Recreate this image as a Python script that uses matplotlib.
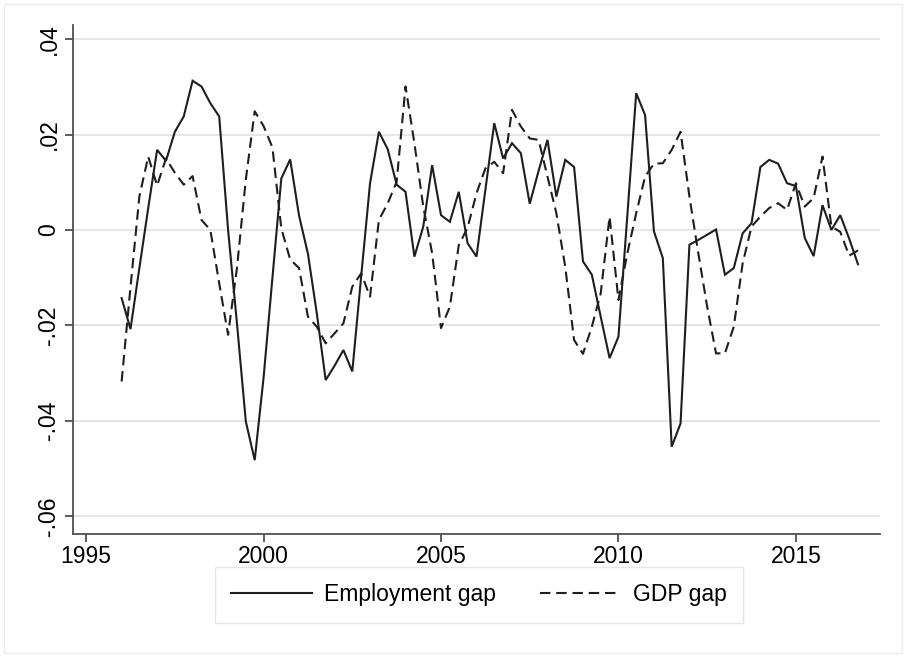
import matplotlib
matplotlib.use("Agg")
import matplotlib.pyplot as plt
import numpy as np
from matplotlib.patches import Rectangle

plt.rcParams['font.family'] = ['Liberation Sans', 'DejaVu Sans']

# Quarterly periods 1996q1 .. 2016q4
start_year = 1996
n_quarters = 84

employment_gap = [
    -0.0143, -0.0208, -0.0080, 0.0046, 0.0168, 0.0145, 0.0206, 0.0238,
    0.0313, 0.0301, 0.0266, 0.0238, 0.0000, -0.0196, -0.0402, -0.0483,
    -0.0310, -0.0100, 0.0108, 0.0148, 0.0030, -0.0050, -0.0175, -0.0315,
    -0.0285, -0.0252, -0.0297, -0.0098, 0.0098, 0.0206, 0.0169, 0.0095,
    0.0080, -0.0056, 0.0007, 0.0136, 0.0031, 0.0017, 0.0080, -0.0028,
    -0.0056, 0.0084, 0.0224, 0.0150, 0.0182, 0.0161, 0.0055, 0.0124,
    0.0189, 0.0070, 0.0147, 0.0132, -0.0066, -0.0094, -0.0182, -0.0269,
    -0.0224, 0.0030, 0.0287, 0.0241, -0.0003, -0.0059, -0.0455, -0.0406,
    -0.0031, -0.0021, -0.0010, 0.0001, -0.0094, -0.0080, -0.0007, 0.0014,
    0.0132, 0.0147, 0.0139, 0.0098, 0.0092, -0.0017, -0.0055, 0.0052,
    0.0000, 0.0031, -0.0018, -0.0072,
]

gdp_gap = [
    -0.0318, -0.0120, 0.0070, 0.0154, 0.0093, 0.0150, 0.0120, 0.0095,
    0.0113, 0.0021, 0.0000, -0.0112, -0.0220, -0.0080, 0.0106, 0.0249,
    0.0218, 0.0173, 0.0003, -0.0062, -0.0080, -0.0182, -0.0203, -0.0238,
    -0.0217, -0.0196, -0.0119, -0.0091, -0.0140, 0.0021, 0.0056, 0.0101,
    0.0301, 0.0182, 0.0049, -0.0049, -0.0206, -0.0161, -0.0032, 0.0005,
    0.0077, 0.0129, 0.0143, 0.0119, 0.0252, 0.0217, 0.0192, 0.0189,
    0.0112, 0.0035, -0.0077, -0.0231, -0.0260, -0.0203, -0.0133, 0.0028,
    -0.0147, -0.0049, 0.0035, 0.0112, 0.0139, 0.0140, 0.0168, 0.0206,
    0.0070, -0.0049, -0.0161, -0.0259, -0.0259, -0.0203, -0.0070, 0.0007,
    0.0028, 0.0046, 0.0056, 0.0042, 0.0098, 0.0049, 0.0067, 0.0154,
    0.0007, -0.0004, -0.0054, -0.0043,
]

x_ticks = [1995, 2000, 2005, 2010, 2015]
y_ticks = [0.04, 0.02, 0.0, -0.02, -0.04, -0.06]
y_ticklabels = [".04", ".02", "0", "-.02", "-.04", "-.06"]

t = start_year + np.arange(n_quarters) / 4.0

W, H = 906, 657
fig = plt.figure(figsize=(W / 100, H / 100), dpi=100)
fig.patch.set_facecolor("white")

left, right, top, bottom = 73, 880, 25, 534
ax = fig.add_axes([left / W, 1 - bottom / H, (right - left) / W, (bottom - top) / H])

line_col = "#1e1e1e"
ax.plot(t, employment_gap, color=line_col, lw=1.5, label="Employment gap",
        solid_joinstyle="miter")
ax.plot(t, gdp_gap, color=line_col, lw=1.5, linestyle=(0, (5.0, 2.8)),
        label="GDP gap")

ax.set_xlim(1994.63, 2017.37)
ax.set_ylim(-0.0638, 0.0430)

ax.set_xticks(x_ticks)
ax.set_xticklabels([str(v) for v in x_ticks])
ax.set_yticks(y_ticks)
ax.set_yticklabels(y_ticklabels, rotation=90, va="center")

for s in ["top", "right"]:
    ax.spines[s].set_visible(False)
for s in ["left", "bottom"]:
    ax.spines[s].set_color("#505050")
    ax.spines[s].set_linewidth(1.3)

ax.tick_params(axis="both", colors="#505050", length=6, width=1.3,
               labelsize=16.5, labelcolor="black")
ax.tick_params(axis="y", pad=3)
ax.tick_params(axis="x", pad=2)

ax.grid(axis="y", color="#e6e6e6", lw=1.4)
ax.set_axisbelow(True)

leg = fig.legend(loc="center", bbox_to_anchor=(479 / W, 1 - 595 / H), ncol=2,
                 fontsize=16.5, frameon=True, fancybox=False, handlelength=3.5,
                 handletextpad=0.55, columnspacing=1.9, borderpad=0.7,
                 borderaxespad=0)
leg.get_frame().set_edgecolor("#e0e0e0")
leg.get_frame().set_linewidth(1.0)

# outer graph-region frame
fig.patches.append(Rectangle((4 / W, 4 / H), 1 - 8 / W, 1 - 8 / H,
                             transform=fig.transFigure, fill=False,
                             edgecolor="#ececec", lw=1.0))

fig.savefig("out.png", dpi=100)
